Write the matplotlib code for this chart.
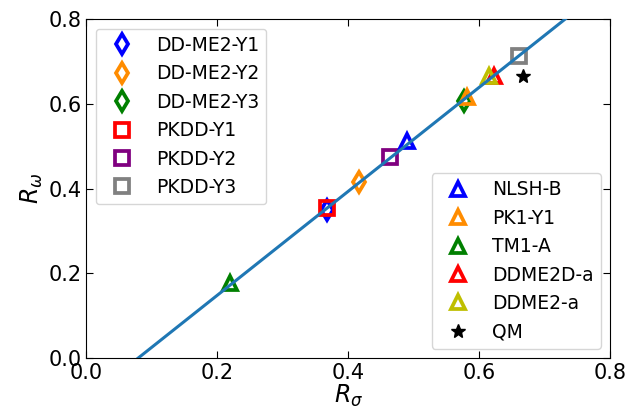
import matplotlib
matplotlib.use('Agg')
import matplotlib.pyplot as plt
import numpy as np

# modelli con marker a diamante / quadrato (prima legenda)
labels_a = ['DD-ME2-Y1', 'DD-ME2-Y2', 'DD-ME2-Y3', 'PKDD-Y1', 'PKDD-Y2', 'PKDD-Y3']
r_sigma_a = [0.367, 0.417, 0.576, 0.367, 0.464, 0.660]
r_omega_a = [0.350, 0.415, 0.608, 0.354, 0.474, 0.712]
markers_a = ['d', 'd', 'd', 's', 's', 's']
colors_a = ['b', 'darkorange', 'g', 'r', 'purple', 'grey']

# modelli con triangoli + QM (seconda legenda)
labels_b = ['NLSH-B', 'PK1-Y1', 'TM1-A', 'DDME2D-a', 'DDME2-a', 'QM']
r_sigma_b = [0.490, 0.582, 0.220, 0.623, 0.615, 0.667]
r_omega_b = [0.512, 0.616, 0.177, 0.665, 0.665, 0.667]
markers_b = ['^', '^', '^', '^', '^', '*']
colors_b = ['b', 'darkorange', 'g', 'r', 'y', 'k']

# retta di fit
fit_slope = 1.227
fit_intercept = -0.097

fig = plt.figure(figsize=(6.39, 4.16), dpi=100)
ax = fig.add_axes([0.135, 0.139, 0.820, 0.815])

handles_a = []
for x, y, m, c, lab in zip(r_sigma_a, r_omega_a, markers_a, colors_a, labels_a):
    h, = ax.plot(x, y, m, color=c, mfc='none', mec=c, ms=10, mew=2.7, label=lab)
    handles_a.append(h)

handles_b = []
for x, y, m, c, lab in zip(r_sigma_b, r_omega_b, markers_b, colors_b, labels_b):
    if m == '*':
        h, = ax.plot(x, y, m, color=c, ms=10, label=lab)
    else:
        h, = ax.plot(x, y, m, color=c, mfc='none', mec=c, ms=10, mew=2.7, label=lab)
    handles_b.append(h)

xx = np.array([0.0, 0.8])
ax.plot(xx, fit_slope * xx + fit_intercept, color='#1f77b4', lw=2.2, zorder=5)

ax.set_xlim(0, 0.8)
ax.set_ylim(0, 0.8)
ax.set_xticks([0.0, 0.2, 0.4, 0.6, 0.8])
ax.set_yticks([0.0, 0.2, 0.4, 0.6, 0.8])
ax.tick_params(direction='in', top=True, right=True, labelsize=15, length=5)
ax.set_xlabel(r'$R_\sigma$', fontsize=17, labelpad=0)
ax.set_ylabel(r'$R_\omega$', fontsize=17, labelpad=2)

leg1 = ax.legend(handles=handles_a, loc='upper left', fontsize=13.5)
ax.add_artist(leg1)
ax.legend(handles=handles_b, loc='lower right', fontsize=13.5)

fig.savefig('out.png', dpi=100)
